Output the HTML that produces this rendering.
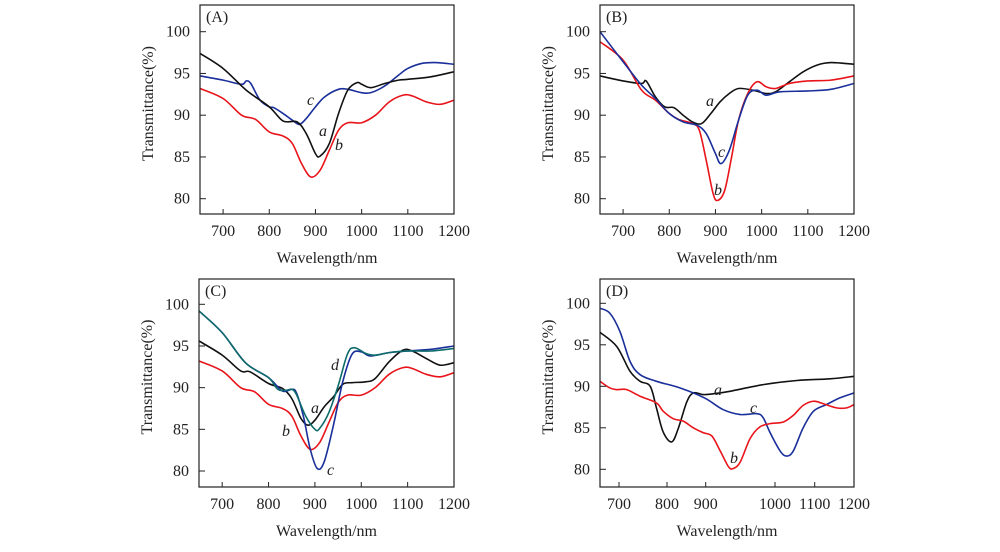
<!DOCTYPE html>
<html><head><meta charset="utf-8"><style>
html,body{margin:0;padding:0;background:#fff;}
svg{display:block;font-family:"Liberation Serif","DejaVu Serif",serif;}
</style></head><body>
<svg id="fig" width="1000" height="552" viewBox="0 0 1000 552"></svg>
<script>
// ---------- data ----------
const xTicks = [700,800,900,1000,1100,1200];
const yTicks = [80,85,90,95,100];

const A_a_x=[650,700,750,800,830,860,880,900,910,930,950,970,990,1000,1020,1050,1080,1100,1150,1200];
const A_a_y=[97.4,95.6,93.0,91.0,89.3,89.2,87.8,85.4,85.1,86.6,90.2,93.0,93.9,93.7,93.3,93.8,94.2,94.3,94.6,95.2];
const A_b_x=[650,700,740,770,800,830,850,870,890,910,930,950,970,1000,1030,1060,1090,1110,1140,1170,1200];
const A_b_y=[93.2,92.0,90.0,89.5,88.0,87.5,86.6,84.2,82.6,83.4,85.8,88.2,89.1,89.1,90.0,91.6,92.4,92.3,91.6,91.3,91.8];
const A_c_x=[650,700,740,750,760,780,800,810,830,850,865,880,900,920,950,970,1000,1020,1050,1080,1100,1130,1160,1200];
const A_c_y=[94.7,94.2,93.7,94.1,93.8,91.8,91.0,90.9,90.2,89.4,88.9,89.6,91.0,92.2,93.1,93.1,92.7,92.7,93.5,94.8,95.6,96.2,96.3,96.1];

const B_a_x=[650,700,740,750,770,790,810,830,850,870,890,910,930,950,980,1010,1030,1060,1090,1120,1150,1200];
const B_a_y=[94.7,94.1,93.8,94.1,92.2,91.0,90.9,90.0,89.2,89.0,90.2,91.6,92.6,93.2,93.0,92.6,92.8,94.0,95.2,96.0,96.3,96.1];
const B_b_x=[650,700,740,770,800,820,850,865,880,895,905,920,935,950,970,990,1010,1030,1060,1100,1150,1200];
const B_b_y=[98.8,96.6,93.0,91.8,90.2,89.5,89.0,88.2,84.6,80.6,79.8,81.0,85.0,89.4,92.6,94.0,93.4,93.2,93.8,94.1,94.2,94.7];
const B_c_x=[650,700,740,770,800,830,860,880,900,912,930,950,970,990,1010,1040,1100,1150,1200];
const B_c_y=[100,96.4,93.6,92.0,90.2,89.2,88.8,87.8,85.4,84.2,85.8,89.4,92.4,93.0,92.4,92.8,92.9,93.1,93.8];

const C_a_x=[650,700,740,760,800,830,850,870,885,900,920,940,960,980,1010,1030,1060,1090,1110,1140,1170,1200];
const C_a_y=[95.6,93.9,92.0,91.9,90.5,89.9,88.7,86.3,85.5,86.1,87.7,88.9,90.4,90.6,90.7,91.1,93.1,94.5,94.4,93.5,92.7,93.0];
const C_b_x=A_b_x;
const C_b_y=A_b_y;
const C_c_x=[650,700,750,800,830,850,860,875,890,905,920,940,960,980,1000,1020,1060,1100,1150,1200];
const C_c_y=[99.2,96.6,93.0,91.2,89.6,89.8,89.4,86.6,82.6,80.3,81.1,85.5,90.7,94.0,94.3,93.8,94.2,94.4,94.6,95.0];
const C_d_x=[650,700,750,800,820,840,850,860,880,900,910,930,950,970,985,1010,1030,1060,1100,1150,1200];
const C_d_y=[99.2,96.6,93.0,91.2,89.8,89.7,89.8,89.2,86.6,85.0,85.1,87.0,90.2,94.0,94.8,94.1,93.9,94.2,94.4,94.4,94.7];

const D_a_x=[650,694,723,744,765,778,792,812,829,851,868,894,911,935,983,1055,1139,1200];
const D_a_y=[96.5,94.8,91.8,90.6,90.0,87.4,84.5,83.3,84.9,88.1,89.2,89.0,89.1,89.4,90.2,90.7,90.9,91.2];
const D_b_x=[650,676,694,716,744,778,792,816,842,868,894,909,921,933,940,950,964,978,993,1021,1046,1071,1097,1122,1156,1181,1200];
const D_b_y=[90.6,89.8,89.6,89.6,88.8,88.0,87.0,86.1,85.8,85.0,84.4,84.0,82.2,80.3,80.1,80.9,83.7,85.1,85.5,85.7,86.5,87.7,88.2,87.9,87.4,87.4,87.8];
const D_c_x=[650,676,702,723,744,778,834,897,925,950,974,983,993,1013,1029,1046,1071,1097,1130,1164,1200];
const D_c_y=[99.4,98.8,96.6,93.0,91.4,90.6,89.8,88.6,87.2,86.6,86.7,86.2,84.4,82.2,81.6,82.2,85.0,87.0,87.8,88.6,89.2];

// ---------- drawing ----------
const NS="http://www.w3.org/2000/svg";
const svg=document.getElementById('fig');
function mk(tag,attrs,parent){const e=document.createElementNS(NS,tag);for(const k in attrs)e.setAttribute(k,attrs[k]);(parent||svg).appendChild(e);return e;}

function linScale(d0,d1,r0,r1){return v=>r0+(v-d0)/(d1-d0)*(r1-r0);}
function pwScale(dom,rng){return v=>{for(let i=0;i<dom.length-1;i++){if(v<=dom[i+1]||i===dom.length-2){return rng[i]+(v-dom[i])/(dom[i+1]-dom[i])*(rng[i+1]-rng[i]);}}};}

function smoothPath(pts){
  let d=`M${pts[0][0].toFixed(2)},${pts[0][1].toFixed(2)}`;
  for(let i=0;i<pts.length-1;i++){
    const p0=pts[i-1]||pts[i],p1=pts[i],p2=pts[i+1],p3=pts[i+2]||p2;
    const c1x=p1[0]+(p2[0]-p0[0])/6,c1y=p1[1]+(p2[1]-p0[1])/6;
    const c2x=p2[0]-(p3[0]-p1[0])/6,c2y=p2[1]-(p3[1]-p1[1])/6;
    d+=` C${c1x.toFixed(2)},${c1y.toFixed(2)} ${c2x.toFixed(2)},${c2y.toFixed(2)} ${p2[0].toFixed(2)},${p2[1].toFixed(2)}`;
  }
  return d;
}

function panel(cfg){
  const g=mk('g',{});
  
  
  const {L,R,T,B}=cfg;
  const x=cfg.xs, y=linScale(80,100,cfg.y80,cfg.y100);
  const clip=mk('clipPath',{id:'clip'+cfg.id},g);
  mk('rect',{x:L,y:T,width:R-L,height:B-T},clip);
  cfg.series.forEach(s=>{
    const pts=s.x.map((v,i)=>[x(v),y(s.y[i])]);
    const p=mk('path',{d:smoothPath(pts),fill:'none',stroke:s.color,'stroke-width':1.6,'clip-path':`url(#clip${cfg.id})`},g);
    
    
  });
  const fr=mk('rect',{x:L,y:T,width:R-L,height:B-T,fill:'none',stroke:'#222','stroke-width':1.2},g);
  
  
  xTicks.forEach(t=>{
    const px=x(t);
    if(t<1200) mk('line',{x1:px,x2:px,y1:B,y2:B-5,stroke:'#222','stroke-width':1},g);
    const tx=mk('text',{x:px,y:B+22,'text-anchor':'middle','font-size':16,fill:'#222'},g);
    tx.textContent=t;
    
    
  });
  yTicks.forEach(t=>{
    const py=y(t);
    mk('line',{x1:L,x2:L+6,y1:py,y2:py,stroke:'#222','stroke-width':1},g);
    const tx=mk('text',{x:L-10,y:py+5,'text-anchor':'end','font-size':16,fill:'#222'},g);
    tx.textContent=t;
    
    
  });
  const xt=mk('text',{x:(L+R)/2,y:B+49,'text-anchor':'middle','font-size':16,fill:'#222'},g);
  xt.textContent='Wavelength/nm';
  
  
  const yc=(T+B)/2-6;
  const yt=mk('text',{x:L-52,y:yc,'text-anchor':'middle','font-size':16,fill:'#222',transform:`rotate(-90 ${L-52} ${yc})`,dy:5},g);
  yt.textContent='Transmittance(%)';
  
  
  const pt=mk('text',{x:L+6,y:T+17,'font-size':16,fill:'#222'},g);
  pt.textContent='('+cfg.id+')';
  
  
  cfg.labels.forEach(l=>{
    const t=mk('text',{x:l[1],y:l[2],'font-size':16,'font-style':'italic',fill:'#222'},g);
    t.textContent=l[0];
    
    
  });
}

const K='#111',RD='#e8141a',BL='#1a2f9a',TL='#0e6b6b';
panel({id:'A',L:200,R:454,T:5,B:214,y80:198.7,y100:31.7,xs:linScale(650,1200,200,454),
  series:[{name:'c',x:A_c_x,y:A_c_y,color:BL},{name:'b',x:A_b_x,y:A_b_y,color:RD},{name:'a',x:A_a_x,y:A_a_y,color:K}],
  labels:[['c',307,105],['a',319,136],['b',335,150]]});
panel({id:'B',L:600,R:854,T:5,B:214,y80:198.7,y100:31.7,xs:linScale(650,1200,600,854),
  series:[{name:'a',x:B_a_x,y:B_a_y,color:K},{name:'b',x:B_b_x,y:B_b_y,color:RD},{name:'c',x:B_c_x,y:B_c_y,color:BL}],
  labels:[['a',706,106],['c',718,157],['b',714,195]]});
panel({id:'C',L:199,R:454,T:279,B:487,y80:471,y100:304.3,xs:linScale(650,1200,199,454),
  series:[{name:'b',x:C_b_x,y:C_b_y,color:RD},{name:'a',x:C_a_x,y:C_a_y,color:K},{name:'c',x:C_c_x,y:C_c_y,color:BL},{name:'d',x:C_d_x,y:C_d_y,color:TL}],
  labels:[['d',331,370],['a',311,413],['b',282,436],['c',327,475]]});
panel({id:'D',L:600,R:854,T:279,B:487,y80:469.3,y100:303.3,
  xs:pwScale([650,700,800,900,1000,1100,1200],[600,619,667,705.7,775,814.7,854]),
  series:[{name:'a',x:D_a_x,y:D_a_y,color:K},{name:'c',x:D_c_x,y:D_c_y,color:BL},{name:'b',x:D_b_x,y:D_b_y,color:RD}],
  labels:[['a',714,395],['c',750,413],['b',730,463]]});
</script>
</body></html>
